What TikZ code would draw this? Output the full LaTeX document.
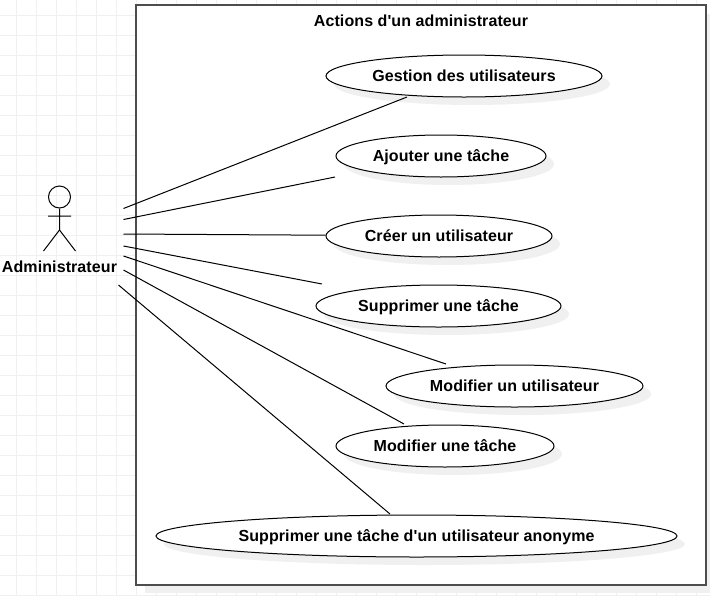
\documentclass[tikz,border=0pt]{standalone}
\usepackage{fontspec}
\newfontfamily\labelfamily[LetterSpace=0.6]{Liberation Sans}
\usetikzlibrary{shapes.geometric,calc}
\definecolor{gridc}{HTML}{F0F0F0}
\definecolor{shadowc}{HTML}{F0F0F0}
\definecolor{boxc}{HTML}{4D4D4D}
\newcommand{\usecasefont}{\labelfamily\fontsize{16pt}{18pt}\selectfont\bfseries}
\tikzset{
  x=1pt,y=-1pt,
  usecase/.style={ellipse,draw=black,line width=1pt,fill=white,inner sep=0pt,minimum height=42pt,font=\usecasefont,text depth=0pt},
  shade box/.style={fill=shadowc,draw=none},
  assoc/.style={draw=black,line width=1pt},
  actorline/.style={draw=black,line width=1pt},
  lbl/.style={inner sep=0pt,font=\usecasefont},
}
\begin{document}
\begin{tikzpicture}[line join=miter]
\useasboundingbox (0,0) rectangle (710,595);
\fill[white] (0,0) rectangle (710,595);
% grid
\foreach \gx in {16.5,36.5,...,716.5} \draw[gridc,line width=1pt] (\gx,0) -- (\gx,595);
\foreach \gy in {15.5,35.5,...,595.5} \draw[gridc,line width=1pt] (0,\gy) -- (710,\gy);
% system box
\fill[shadowc] (145,14) rectangle (710,593);
\node[draw=boxc,line width=1.3pt,fill=white,inner sep=0pt,minimum width=570pt,minimum height=580pt] (system) at (421,295) {};
\node[lbl] (title) at (421,21) {Actions d'un administrateur};
% use case shadows
\foreach \cx/\cy/\w in {464/76/276,441/156/210,439/236/226,438.5/306/245,514.5/386/257,445/446/218,416.5/536/521}
  \node[ellipse,shade box,inner sep=0pt,minimum width=\w pt,minimum height=42pt] at (\cx+8,\cy+8) {};
% use cases
\node[usecase,minimum width=276pt] (gestion) at (464,76) {Gestion des utilisateurs};
\node[usecase,minimum width=210pt] (ajouter) at (441,156) {Ajouter une tâche};
\node[usecase,minimum width=226pt] (creer) at (439,236) {Créer un utilisateur};
\node[usecase,minimum width=245pt] (supprimer) at (438.5,306) {Supprimer une tâche};
\node[usecase,minimum width=257pt] (modifu) at (514.5,386) {Modifier un utilisateur};
\node[usecase,minimum width=218pt] (modift) at (445,446) {Modifier une tâche};
\node[usecase,minimum width=521pt] (anonyme) at (416.5,536) {Supprimer une tâche d'un utilisateur anonyme};
% actor
\node[circle,draw=black,line width=1pt,inner sep=0pt,minimum size=22pt] (head) at (59.5,197) {};
\coordinate (hip) at (59.5,230);
\coordinate (armL) at (48,216);
\coordinate (armR) at (71,216);
\coordinate (legL) at (43.5,251);
\coordinate (legR) at (75.5,251);
\draw[actorline] (head.south) -- (hip) (armL) -- (armR) (legL) -- (hip) -- (legR);
\node[lbl] (actor) at (59.5,267) {Administrateur};
% connector ends
\coordinate (a1) at (123.5,208.5);
\coordinate (a2) at (123.5,219.5);
\coordinate (a3) at (123.5,234);
\coordinate (a4) at (123.5,246);
\coordinate (a5) at (123.5,256);
\coordinate (a6) at (123.5,270);
\coordinate (a7) at (118.5,285);
\coordinate (e1) at ($(gestion.center)+(-57,21)$);
\coordinate (e2) at ($(ajouter.center)+(-106,21)$);
\coordinate (e3) at ($(creer.west)+(0,-0.8)$);
\coordinate (e4) at ($(supprimer.center)+(-116.5,-22)$);
\coordinate (e5) at ($(modifu.center)+(-68.5,-22)$);
\coordinate (e6) at ($(modift.center)+(-41,-22)$);
\coordinate (e7) at ($(anonyme.center)+(-26.5,-22)$);
\draw[assoc] (a1) -- (e1);
\draw[assoc] (a2) -- (e2);
\draw[assoc] (a3) -- (e3);
\draw[assoc] (a4) -- (e4);
\draw[assoc] (a5) -- (e5);
\draw[assoc] (a6) -- (e6);
\draw[assoc] (a7) -- (e7);
\end{tikzpicture}
\end{document}
